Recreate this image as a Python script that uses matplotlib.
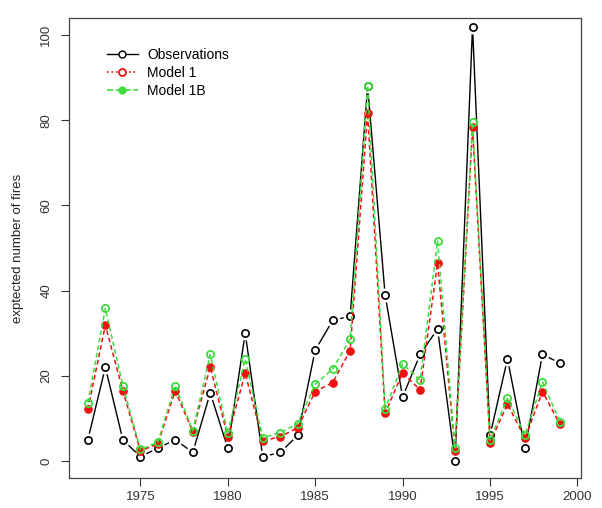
import matplotlib
matplotlib.use("Agg")
import matplotlib.pyplot as plt
from matplotlib.lines import Line2D

plt.rcParams['font.family'] = ['Liberation Sans', 'DejaVu Sans']

years = list(range(1972, 2000))
observations = [5, 22, 5, 1, 3, 5, 2, 16, 3, 30, 1, 2, 6, 26, 33, 34,
                88, 39, 15, 25, 31, 0, 102, 6, 24, 3, 25, 23]
model1 = [12.1, 31.9, 16.5, 2.4, 4.0, 16.5, 6.9, 22.1, 5.7, 20.6, 4.7, 5.7, 7.8, 16.3,
          18.4, 25.9, 81.8, 11.2, 20.7, 16.7, 46.4, 2.4, 78.3, 4.3, 13.4, 5.3, 16.3, 8.6]
model1b = [13.7, 35.8, 17.7, 2.7, 4.4, 17.7, 7.1, 25.0, 6.5, 23.9, 5.5, 6.6, 8.8, 18.0,
           21.6, 28.6, 88.1, 12.2, 22.8, 19.0, 51.6, 3.1, 79.5, 4.9, 14.7, 6.1, 18.6, 9.2]

red = '#ee1111'
green = '#3ddd3d'

fig = plt.figure(figsize=(6.02, 5.08), dpi=100)
ax = fig.add_axes([0.1146, 0.059, 0.8504, 0.9056])

# observations: black solid line with gaps round the open circles (R type="b")
ax.plot(years, observations, color='black', lw=1.0, zorder=2)
ax.plot(years, observations, ls='none', marker='o', ms=10, mfc='white',
        mec='none', zorder=2.5)
ax.plot(years, observations, ls='none', marker='o', ms=5.2, mfc='none',
        mec='black', mew=1.2, zorder=3)

# model 1: red dashed, filled dots
ax.plot(years, model1, color=red, lw=1.1, ls=(0, (3, 2)), marker='o', ms=5.2,
        mfc=red, mec=red, zorder=4)
# model 1B: green dashed, open circles
ax.plot(years, model1b, color=green, lw=1.1, ls=(0, (3, 2)), marker='o', ms=5.2,
        mfc='none', mec=green, mew=1.3, zorder=5)

ax.set_xlim(1970.92, 2000.2)
ax.set_ylim(-4.0, 104.0)
ax.set_xticks([1975, 1980, 1985, 1990, 1995, 2000])
ax.set_yticks([0, 20, 40, 60, 80, 100])
ax.tick_params(direction='out', length=6, width=0.8, labelsize=9.5, colors='#333333')
ax.tick_params(axis='y', pad=6)
for lab in ax.get_yticklabels():
    lab.set_rotation(90)
    lab.set_va('center')
for sp in ax.spines.values():
    sp.set_color('#444444')
    sp.set_linewidth(0.9)

ax.set_ylabel('exptected number of fires', fontsize=9.5, labelpad=12, color='#222222')

handles = [
    Line2D([], [], color='black', lw=1.0, marker='o', ms=5, mfc='white', mec='black'),
    Line2D([], [], color=red, lw=1.2, ls=':', marker='o', ms=5, mfc='white', mec=red, mew=1.3),
    Line2D([], [], color=green, lw=1.2, ls='--', marker='o', ms=5, mfc=green, mec=green),
]
ax.legend(handles, ['Observations', 'Model 1', 'Model 1B'], loc='upper left',
          bbox_to_anchor=(0.05, 0.962), frameon=False, fontsize=10,
          handlelength=2.2, labelspacing=0.3, handletextpad=0.7)

fig.savefig('out.png', dpi=100)
